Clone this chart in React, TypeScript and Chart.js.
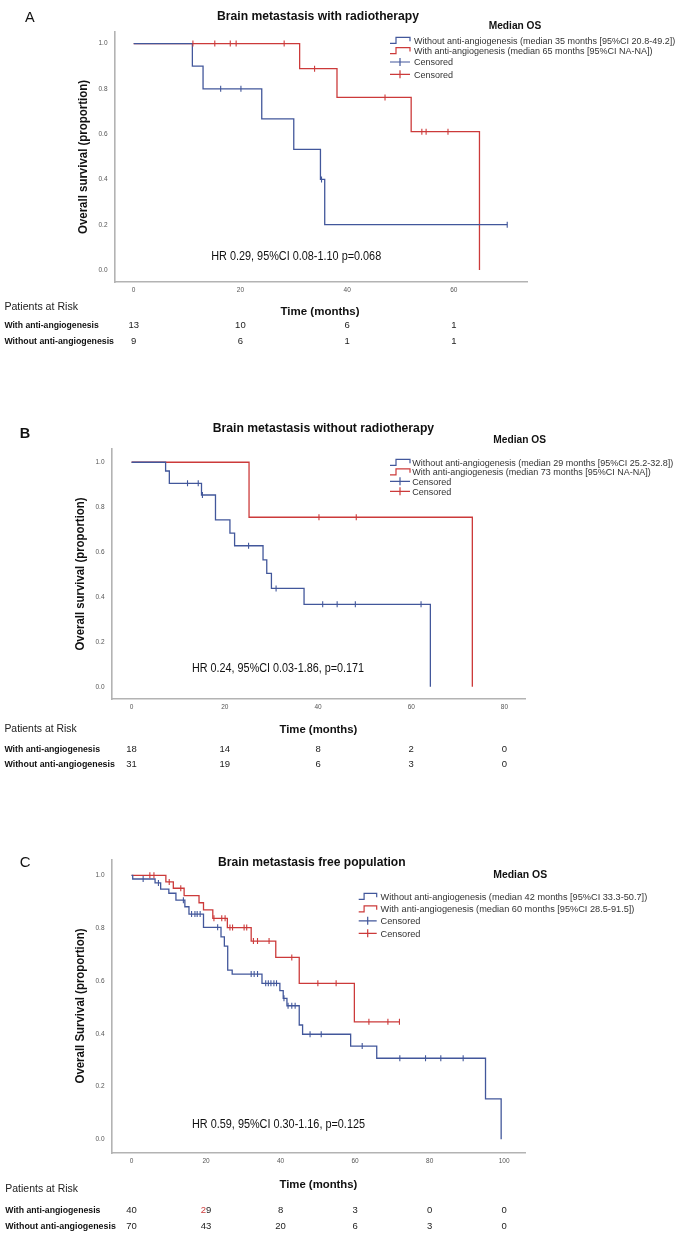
import React, { useEffect, useRef } from "react";
import { Chart, registerables } from "chart.js";
Chart.register(...registerables);

const FONT = '"Liberation Sans", Arial, Helvetica, sans-serif';
const BLUE = "#42579b";
const RED = "#cc3a3a";
const AXIS = "#b3b3b3";
const Y_TICKS = [0, 0.2, 0.4, 0.6, 0.8, 1.0];

// ---------------- Panel A ----------------
const aXTicks = [0, 20, 40, 60];
const aWithoutTimes = [0, 11, 13, 24, 30, 35, 35.8, 70];
const aWithoutSurv = [1, 0.9, 0.8, 0.667, 0.533, 0.4, 0.2, 0.2];
const aWithoutCensor = [16.3, 20.1, 35.2, 70];
const aWithTimes = [0, 31.1, 38.1, 52, 64.8];
const aWithSurv = [1, 0.889, 0.762, 0.611, 0];
const aWithCensor = [11.1, 15.2, 18.1, 19.2, 28.2, 33.9, 47.1, 54, 54.8, 58.9];
const aRiskWith = [13, 10, 6, 1];
const aRiskWithout = [9, 6, 1, 1];

// ---------------- Panel B ----------------
const bXTicks = [0, 20, 40, 60, 80];
const bWithoutTimes = [0, 7.3, 8.1, 15, 18, 21.1, 22.1, 28.2, 29, 30, 37, 64.1];
const bWithoutSurv = [1, 0.961, 0.906, 0.854, 0.743, 0.684, 0.628, 0.565, 0.505, 0.438, 0.367, 0];
const bWithoutCensor = [12, 14.3, 15.2, 25.1, 31, 41, 44.1, 48, 62.1];
const bWithTimes = [0, 25.2, 73.1];
const bWithSurv = [1, 0.755, 0];
const bWithCensor = [40.2, 48.2];
const bRiskWith = [18, 14, 8, 2, 0];
const bRiskWithout = [31, 19, 6, 3, 0];

// ---------------- Panel C ----------------
const cXTicks = [0, 20, 40, 60, 80, 100];
const cWithoutTimes = [0, 0.3, 6.3, 7.8, 10.0, 11.9, 14.3, 15.4, 19.3, 24.0, 24.9, 25.8, 27.0, 35.0, 39.8, 40.7, 41.7, 45.0, 45.9, 58.8, 65.8, 95.0, 99.2];
const cWithoutSurv = [1, 0.986, 0.971, 0.948, 0.932, 0.906, 0.881, 0.853, 0.803, 0.767, 0.732, 0.641, 0.626, 0.591, 0.563, 0.534, 0.506, 0.433, 0.398, 0.353, 0.307, 0.153, 0];
const cWithoutCensor = [3.1, 7.2, 13.9, 16.1, 17.0, 17.6, 18.4, 23.1, 32.1, 32.9, 33.8, 36.0, 36.7, 37.4, 38.2, 38.9, 40.9, 42.0, 43.0, 43.9, 47.9, 50.9, 61.9, 72.0, 78.9, 83.0, 89.0];
const cWithTimes = [0, 9.2, 11.2, 14.1, 18.1, 19.3, 21.8, 25.7, 32.1, 38.7, 45.0, 59.8, 72];
const cWithSurv = [1, 0.975, 0.951, 0.923, 0.896, 0.869, 0.837, 0.802, 0.751, 0.689, 0.591, 0.445, 0.445];
const cWithCensor = [4.9, 6.0, 10.1, 13.2, 22.1, 24.2, 25.1, 26.4, 27.1, 30.2, 30.9, 32.7, 33.8, 36.9, 43.0, 50.0, 54.9, 63.7, 68.8, 71.9];
const cRiskWith = [40, 29, 8, 3, 0, 0];
const cRiskWithout = [70, 43, 20, 6, 3, 0];

const ROW_LABELS = ["With anti-angiogenesis", "Without anti-angiogenesis"];

function survAt(times: number[], surv: number[], t: number) {
  let s = surv[0];
  for (let i = 0; i < times.length; i++) if (times[i] <= t) s = surv[i];
  return s;
}

type Series = { times: number[]; surv: number[]; censor: number[]; color: string };
type Spec = {
  top: number;
  height: number;
  area: { l: number; r: number; t: number; b: number };
  xMin: number; xMax: number; yMin: number; yMax: number;
  xTicks: number[];
  letter: { s: string; x: number; y: number; size: number; bold: boolean };
  title: { s: string; cx: number; y: number; w: number };
  median: { cx: number; y: number; w: number };
  legend: { iconX: number; iconW: number; textX: number; ys: number[]; size: number; labels: string[] };
  hr: { s: string; x: number; y: number; w: number };
  yTitle: { s: string; cx: number; cy: number; w: number };
  xTitle: { cx: number; y: number; w: number };
  risk: { x: number; headY: number; headW: number; rowYs: number[]; rowWs: number[]; rows: number[][] };
  series: Series[];
  redMark?: { row: number; idx: number };
};

const PANELS: Spec[] = [
  {
    top: 0, height: 390,
    area: { l: 115, r: 527.5, t: 32, b: 282 },
    xMin: -3.5, xMax: 73.8, yMin: -0.053, yMax: 1.051,
    xTicks: aXTicks,
    letter: { s: "A", x: 25, y: 22, size: 14.5, bold: false },
    title: { s: "Brain metastasis with radiotherapy", cx: 318, y: 20, w: 202 },
    median: { cx: 515, y: 29.3, w: 52.6 },
    legend: {
      iconX: 390, iconW: 20, textX: 414, ys: [43.5, 53.8, 65.2, 77.5], size: 9,
      labels: [
        "Without anti-angiogenesis (median 35 months [95%CI 20.8-49.2])",
        "With anti-angiogenesis (median 65 months [95%CI NA-NA])",
        "Censored", "Censored",
      ],
    },
    hr: { s: "HR 0.29, 95%CI 0.08-1.10 p=0.068", x: 211.2, y: 259.5, w: 170 },
    yTitle: { s: "Overall survival (proportion)", cx: 84, cy: 157, w: 154 },
    xTitle: { cx: 320, y: 315, w: 79 },
    risk: { x: 4.4, headY: 310, headW: 73.6, rowYs: [328.3, 344.3], rowWs: [94.3, 109.6], rows: [aRiskWith, aRiskWithout] },
    series: [
      { times: aWithoutTimes, surv: aWithoutSurv, censor: aWithoutCensor, color: BLUE },
      { times: aWithTimes, surv: aWithSurv, censor: aWithCensor, color: RED },
    ],
  },
  {
    top: 390, height: 430,
    area: { l: 112, r: 525, t: 449, b: 699.3 },
    xMin: -4.2, xMax: 84.4, yMin: -0.056, yMax: 1.059,
    xTicks: bXTicks,
    letter: { s: "B", x: 19.7, y: 438.3, size: 14.5, bold: true },
    title: { s: "Brain metastasis without radiotherapy", cx: 323.4, y: 431.5, w: 221.4 },
    median: { cx: 519.7, y: 443.3, w: 52.7 },
    legend: {
      iconX: 390, iconW: 20, textX: 412.2, ys: [465.5, 475, 484.5, 494.5], size: 9,
      labels: [
        "Without anti-angiogenesis (median 29 months [95%CI 25.2-32.8])",
        "With anti-angiogenesis (median 73 months [95%CI NA-NA])",
        "Censored", "Censored",
      ],
    },
    hr: { s: "HR 0.24, 95%CI 0.03-1.86, p=0.171", x: 192, y: 671.5, w: 172 },
    yTitle: { s: "Overall survival (proportion)", cx: 81, cy: 574, w: 153 },
    xTitle: { cx: 318.4, y: 732.5, w: 78 },
    risk: { x: 4.4, headY: 732, headW: 72.3, rowYs: [751.5, 767], rowWs: [95.6, 110.5], rows: [bRiskWith, bRiskWithout] },
    series: [
      { times: bWithoutTimes, surv: bWithoutSurv, censor: bWithoutCensor, color: BLUE },
      { times: bWithTimes, surv: bWithSurv, censor: bWithCensor, color: RED },
    ],
  },
  {
    top: 820, height: 413,
    area: { l: 112, r: 525, t: 860, b: 1153.3 },
    xMin: -5.26, xMax: 105.6, yMin: -0.053, yMax: 1.058,
    xTicks: cXTicks,
    letter: { s: "C", x: 19.7, y: 866.5, size: 15, bold: false },
    title: { s: "Brain metastasis free population", cx: 311.8, y: 866, w: 187.6 },
    median: { cx: 520.2, y: 878.3, w: 53.9 },
    legend: {
      iconX: 358.7, iconW: 18, textX: 380.6, ys: [899.5, 912, 924, 936.5], size: 9.2,
      labels: [
        "Without anti-angiogenesis (median 42 months [95%CI 33.3-50.7])",
        "With anti-angiogenesis (median 60 months [95%CI 28.5-91.5])",
        "Censored", "Censored",
      ],
    },
    hr: { s: "HR 0.59, 95%CI 0.30-1.16, p=0.125", x: 192, y: 1128, w: 173 },
    yTitle: { s: "Overall Survival (proportion)", cx: 81, cy: 1006, w: 155 },
    xTitle: { cx: 318.4, y: 1187.5, w: 78 },
    risk: { x: 5.3, headY: 1192, headW: 72.7, rowYs: [1213, 1229], rowWs: [95.1, 110.5], rows: [cRiskWith, cRiskWithout] },
    series: [
      { times: cWithoutTimes, surv: cWithoutSurv, censor: cWithoutCensor, color: BLUE },
      { times: cWithTimes, surv: cWithSurv, censor: cWithCensor, color: RED },
    ],
    redMark: { row: 0, idx: 1 },
  },
];

type TOpts = { bold?: boolean; color?: string; align?: CanvasTextAlign; w?: number; rot?: number; baseline?: CanvasTextBaseline };
function drawText(ctx: CanvasRenderingContext2D, s: string, x: number, y: number, size: number, o: TOpts = {}) {
  ctx.save();
  ctx.font = `${o.bold ? "bold " : ""}${size}px ${FONT}`;
  ctx.fillStyle = o.color || "#1a1a1a";
  ctx.textAlign = o.align || "left";
  ctx.textBaseline = o.baseline || "alphabetic";
  const nat = ctx.measureText(s).width;
  const sx = o.w ? o.w / nat : 1;
  ctx.translate(x, y);
  if (o.rot) ctx.rotate(o.rot);
  ctx.scale(sx, 1);
  ctx.fillText(s, 0, 0);
  ctx.restore();
}

function makePlugin(spec: Spec) {
  return {
    id: "kmText" + spec.letter.s,
    afterDraw(chart: any) {
      const ctx: CanvasRenderingContext2D = chart.ctx;
      const Y = (v: number) => v - spec.top;
      const xs = chart.scales.x;
      // letter & title
      drawText(ctx, spec.letter.s, spec.letter.x, Y(spec.letter.y), spec.letter.size, { bold: spec.letter.bold, color: "#111" });
      drawText(ctx, spec.title.s, spec.title.cx, Y(spec.title.y), 12.5, { bold: true, align: "center", w: spec.title.w, color: "#111" });
      drawText(ctx, "Median OS", spec.median.cx, Y(spec.median.y), 11.5, { bold: true, align: "center", w: spec.median.w, color: "#111" });
      // legend
      const lg = spec.legend;
      lg.labels.forEach((lab, i) => {
        const base = Y(lg.ys[i]);
        const yc = base - 3.2;
        const color = i % 2 === 0 ? BLUE : RED;
        ctx.save();
        ctx.strokeStyle = color;
        ctx.lineWidth = 1.2;
        ctx.beginPath();
        const x0 = lg.iconX, w = lg.iconW;
        if (i < 2) {
          ctx.moveTo(x0, yc + 3);
          ctx.lineTo(x0 + w * 0.3, yc + 3);
          ctx.lineTo(x0 + w * 0.3, yc - 3);
          ctx.lineTo(x0 + w, yc - 3);
          ctx.lineTo(x0 + w, yc + 1);
        } else {
          ctx.moveTo(x0, yc);
          ctx.lineTo(x0 + w, yc);
          ctx.moveTo(x0 + w / 2, yc - 4);
          ctx.lineTo(x0 + w / 2, yc + 4);
        }
        ctx.stroke();
        ctx.restore();
        drawText(ctx, lab, lg.textX, base, lg.size, { color: "#333" });
      });
      // HR text
      drawText(ctx, spec.hr.s, spec.hr.x, Y(spec.hr.y), 12, { w: spec.hr.w, color: "#111" });
      // axis titles
      drawText(ctx, spec.yTitle.s, spec.yTitle.cx, Y(spec.yTitle.cy), 12.5, {
        bold: true, align: "center", baseline: "middle", rot: -Math.PI / 2, w: spec.yTitle.w, color: "#111",
      });
      drawText(ctx, "Time (months)", spec.xTitle.cx, Y(spec.xTitle.y), 11.5, { bold: true, align: "center", w: spec.xTitle.w, color: "#111" });
      // risk table
      const rk = spec.risk;
      drawText(ctx, "Patients at Risk", rk.x, Y(rk.headY), 11.5, { w: rk.headW, color: "#222" });
      rk.rows.forEach((row, r) => {
        const by = Y(rk.rowYs[r]);
        drawText(ctx, ROW_LABELS[r], rk.x, by, 9, { bold: true, w: rk.rowWs[r], color: "#111" });
        row.forEach((n, j) => {
          const px = xs.getPixelForValue(spec.xTicks[j]);
          const s = String(n);
          if (spec.redMark && spec.redMark.row === r && spec.redMark.idx === j && s.length > 1) {
            ctx.save();
            ctx.font = `9.5px ${FONT}`;
            const tw = ctx.measureText(s).width;
            const w0 = ctx.measureText(s[0]).width;
            ctx.restore();
            drawText(ctx, s[0], px - tw / 2, by, 9.5, { color: RED });
            drawText(ctx, s.slice(1), px - tw / 2 + w0, by, 9.5, { color: "#222" });
          } else {
            drawText(ctx, s, px, by, 9.5, { align: "center", color: "#222" });
          }
        });
      });
    },
  };
}

const YW = 30;
const XH = 20;

function KMPanel({ spec }: { spec: Spec }) {
  const ref = useRef<HTMLCanvasElement>(null);
  useEffect(() => {
    const canvas = ref.current;
    if (!canvas) return;
    const a = spec.area;
    const lines = spec.series.map((s) => ({
      type: "line" as const,
      data: s.times.map((t, i) => ({ x: t, y: s.surv[i] })),
      borderColor: s.color,
      borderWidth: 1.3,
      stepped: true,
      pointRadius: 0,
      fill: false,
      order: 2,
    }));
    const marks = spec.series.map((s) => ({
      type: "line" as const,
      data: s.censor.map((t) => ({ x: t, y: survAt(s.times, s.surv, t) })),
      showLine: false,
      borderColor: s.color,
      backgroundColor: s.color,
      pointStyle: "line" as const,
      pointRotation: 90,
      pointRadius: 3,
      pointBorderWidth: 1.1,
      order: 1,
    }));
    const chart = new Chart(canvas, {
      type: "line",
      data: { datasets: [...lines, ...marks] as any },
      options: {
        animation: false,
        responsive: false,
        maintainAspectRatio: false,
        events: [],
        layout: {
          autoPadding: false,
          padding: {
            left: a.l - YW,
            right: 685 - a.r,
            top: a.t - spec.top,
            bottom: spec.top + spec.height - a.b - XH,
          },
        },
        plugins: { legend: { display: false }, tooltip: { enabled: false }, title: { display: false } },
        scales: {
          x: {
            type: "linear",
            min: spec.xMin,
            max: spec.xMax,
            grid: { display: false, drawTicks: false },
            border: { display: true, color: AXIS, width: 1.6 },
            ticks: { font: { family: FONT, size: 6.5 }, color: "#555", padding: 4, callback: (v: any) => String(v) },
            afterBuildTicks: (s: any) => { s.ticks = spec.xTicks.map((v) => ({ value: v })); },
            afterFit: (s: any) => { s.height = XH; s.paddingLeft = 0; s.paddingRight = 0; },
          },
          y: {
            type: "linear",
            min: spec.yMin,
            max: spec.yMax,
            grid: { display: false, drawTicks: false },
            border: { display: true, color: AXIS, width: 1.6 },
            ticks: { font: { family: FONT, size: 6.5 }, color: "#555", padding: 7.5, callback: (v: any) => Number(v).toFixed(1) },
            afterBuildTicks: (s: any) => { s.ticks = Y_TICKS.map((v) => ({ value: v })); },
            afterFit: (s: any) => { s.width = YW; s.paddingTop = 0; s.paddingBottom = 0; },
          },
        },
      } as any,
      plugins: [makePlugin(spec)],
    });
    return () => chart.destroy();
  }, [spec]);
  return (
    <canvas
      ref={ref}
      width={685}
      height={spec.height}
      style={{ position: "absolute", left: 0, top: spec.top, width: 685, height: spec.height, display: "block" }}
    />
  );
}

export default function App() {
  return (
    <div style={{ position: "absolute", left: 0, top: 0, width: 685, height: 1233, background: "#fff", overflow: "hidden" }}>
      {PANELS.map((p) => (
        <KMPanel key={p.letter.s} spec={p} />
      ))}
    </div>
  );
}
